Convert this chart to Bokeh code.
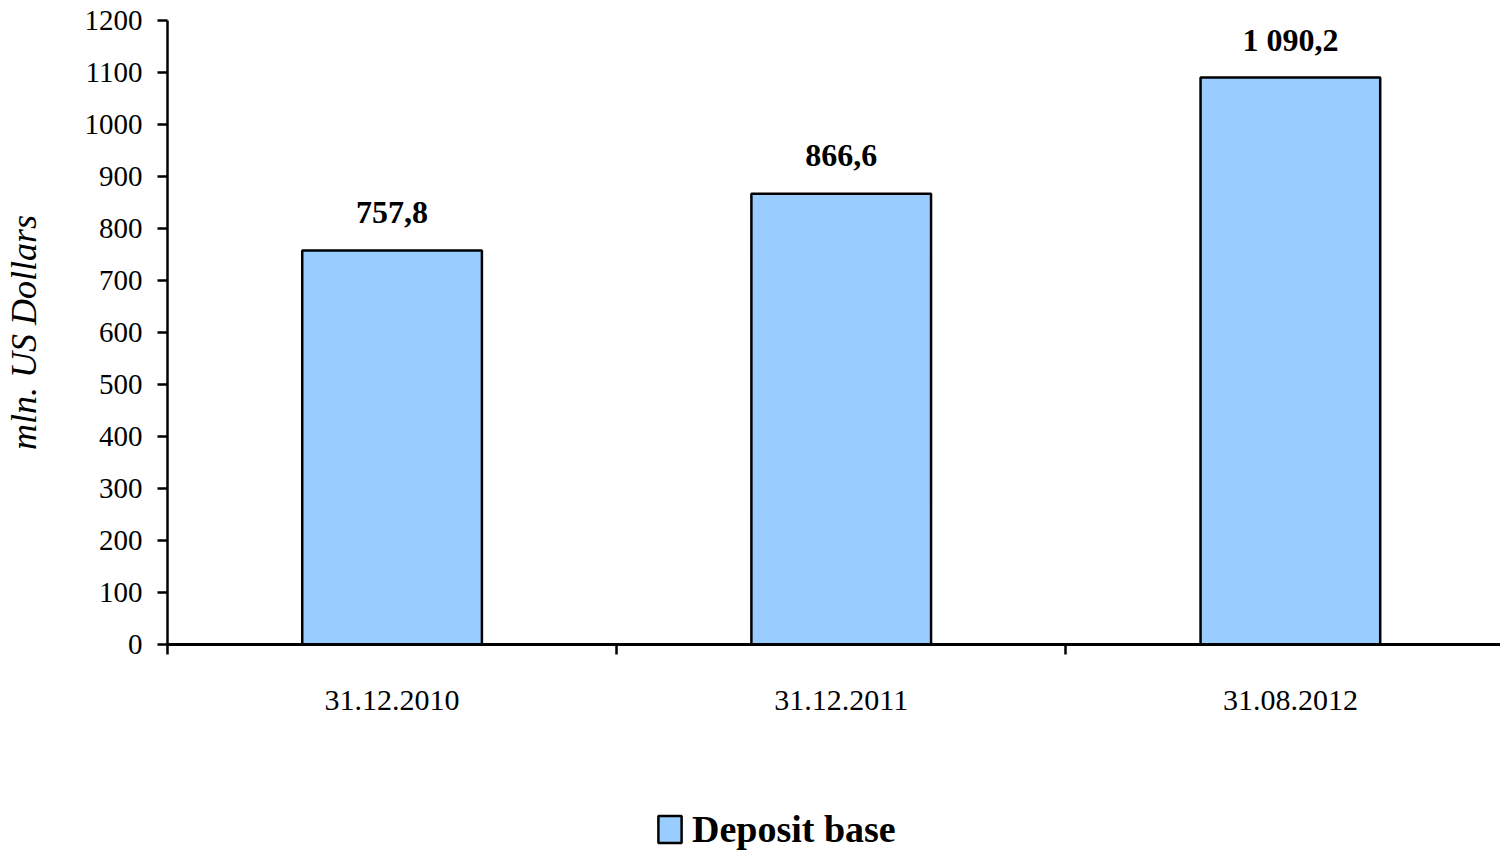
from bokeh.plotting import figure
from bokeh.layouts import column
from bokeh.models import Range1d, FixedTicker, ColumnDataSource, Legend, LegendItem
from bokeh.core.properties import value
from bokeh.embed import file_html
from bokeh.resources import INLINE
import numpy as np

categories = ["31.12.2010", "31.12.2011", "31.08.2012"]
deposits = [757.8, 866.6, 1090.2]
bar_labels = ["757,8", "866,6", "1 090,2"]
y_ticks = [0, 100, 200, 300, 400, 500, 600, 700, 800, 900, 1000, 1100, 1200]
series_name = "Deposit base"
y_title = "mln. US Dollars"

FONT = "Liberation Serif"
BAR_FILL = "#99CCFF"
centers = np.arange(len(categories)) + 0.5
bounds = list(np.arange(len(categories) + 1).astype(float))

src = ColumnDataSource(dict(x=centers, top=deposits, lab=bar_labels))

W = 1500
FRAME_LEFT = 163
x_end = (W - FRAME_LEFT) / 450.5

p = figure(width=W, height=740, output_backend="svg", toolbar_location=None,
           x_range=Range1d(0, x_end), y_range=Range1d(0, 1200),
           min_border_left=FRAME_LEFT, min_border_right=0, min_border_top=20,
           min_border_bottom=96)
p.outline_line_color = None
p.xgrid.visible = False
p.ygrid.visible = False
p.background_fill_color = "white"

p.vbar(x="x", top="top", width=0.4, bottom=0, source=src,
       fill_color=BAR_FILL, line_color="black", line_width=2.5)

p.text(x="x", y="top", text="lab", source=src, y_offset=-38,
       text_align="center", text_baseline="alphabetic",
       text_font=value(FONT), text_font_style="bold", text_font_size="32px",
       text_color="black")

# y axis
ya = p.yaxis[0]
ya.ticker = FixedTicker(ticks=y_ticks, minor_ticks=[])
ya.axis_line_width = 2.5
ya.axis_line_color = "black"
ya.major_tick_line_width = 2.5
ya.major_tick_out = 10
ya.major_tick_in = 0
ya.minor_tick_out = 0
ya.minor_tick_in = 0
ya.major_label_text_font = FONT
ya.major_label_text_font_size = "29px"
ya.major_label_text_color = "black"
ya.major_label_standoff = 15
ya.axis_label = y_title
ya.axis_label_text_font = FONT
ya.axis_label_text_font_style = "italic"
ya.axis_label_text_font_size = "36px"
ya.axis_label_text_color = "black"
ya.axis_label_standoff = 38

# x axis: labels at centers, boundary ticks as minor ticks
xa = p.xaxis[0]
xa.ticker = FixedTicker(ticks=list(centers), minor_ticks=bounds)
xa.major_label_overrides = {float(c): n for c, n in zip(centers, categories)}
xa.axis_line_width = 3
xa.axis_line_color = "black"
xa.major_tick_out = 0
xa.major_tick_in = 0
xa.minor_tick_out = 10
xa.minor_tick_in = 0
xa.minor_tick_line_width = 2.5
xa.minor_tick_line_color = "black"
xa.major_label_text_font = FONT
xa.major_label_text_font_size = "30px"
xa.major_label_text_color = "black"
xa.major_label_standoff = 36

# legend strip below the chart (swatch renderer hidden, only its legend shows)
p2 = figure(width=W, height=110, output_backend="svg", toolbar_location=None,
            x_range=Range1d(0, x_end), y_range=Range1d(0, 1200),
            min_border=0, x_axis_type=None, y_axis_type=None)
p2.outline_line_color = None
p2.xgrid.visible = False
p2.ygrid.visible = False
r2 = p2.vbar(x="x", top="top", width=0.4, bottom=0, source=src,
             fill_color=BAR_FILL, line_color="black", line_width=2.5)
r2.visible = False

legend = Legend(items=[LegendItem(label=series_name, renderers=[r2])],
                location=(488, -1), orientation="horizontal",
                glyph_width=29, glyph_height=34, label_standoff=8,
                padding=0, margin=0, spacing=0,
                border_line_color=None, background_fill_alpha=0,
                inactive_fill_alpha=0,
                label_text_font=FONT, label_text_font_style="bold",
                label_text_font_size="38px", label_text_color="black")
p2.add_layout(legend, "center")

layout = column(p, p2, spacing=0)
open("out.html", "w").write(file_html(layout, INLINE))
